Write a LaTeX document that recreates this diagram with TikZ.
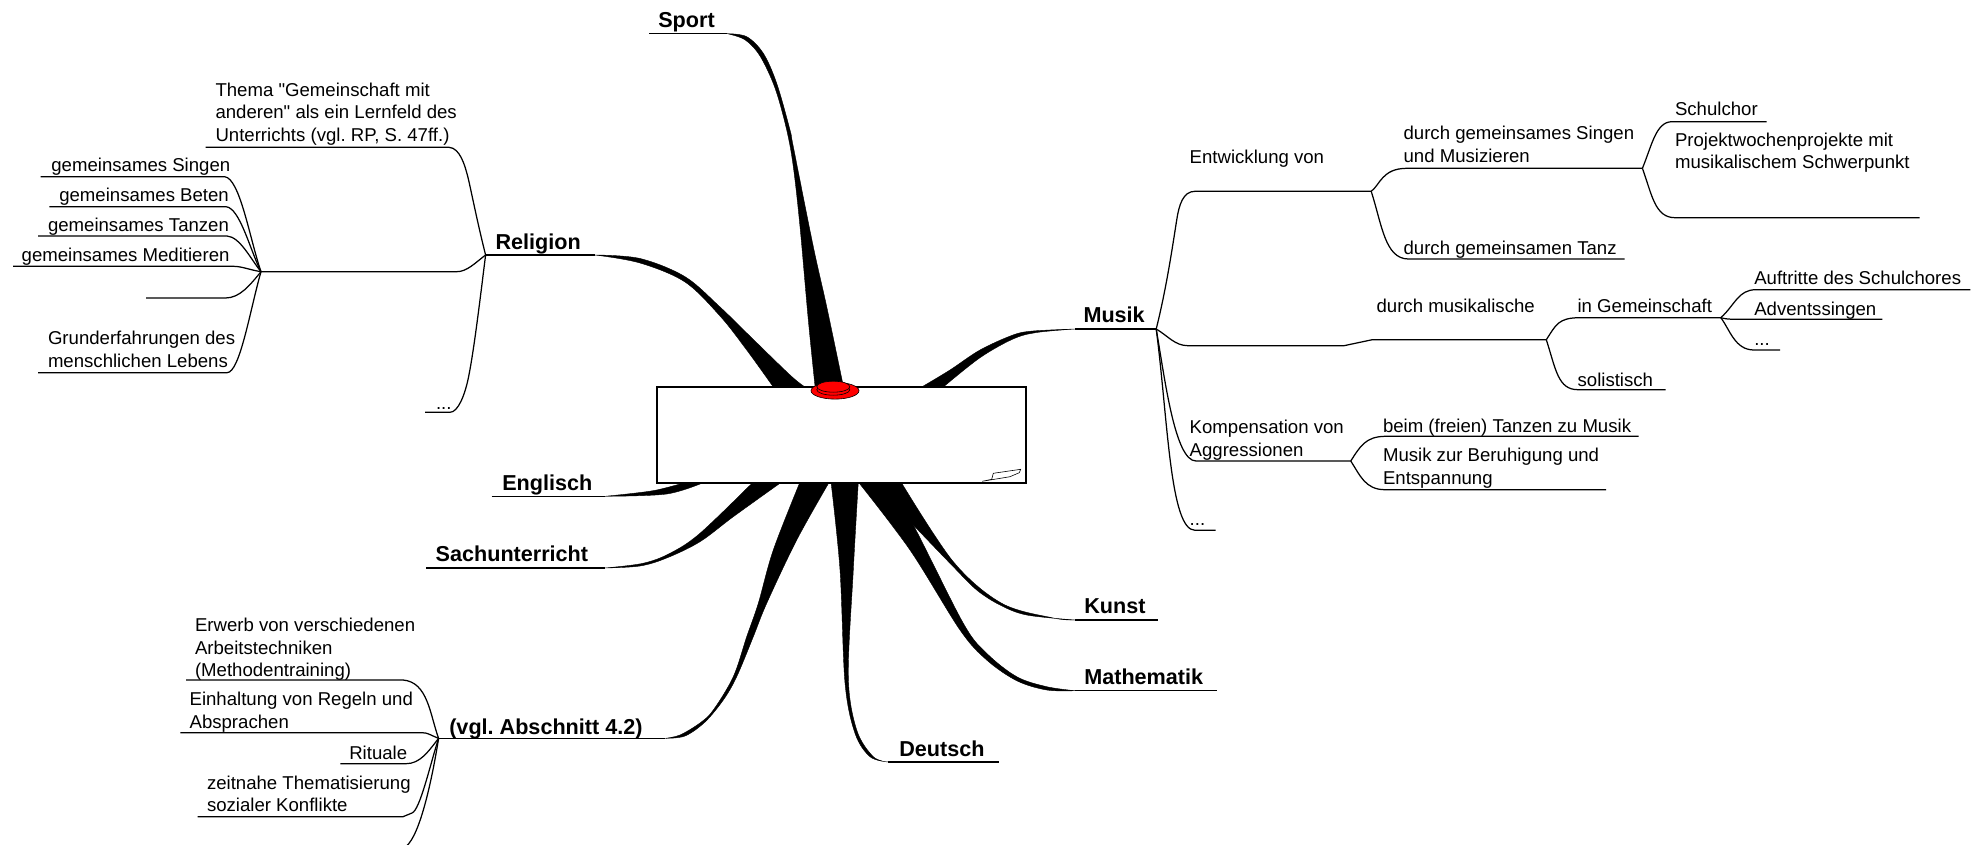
\documentclass[tikz,border=0pt]{standalone}
\usepackage{fontspec}
\usetikzlibrary{shapes.geometric}
\setmainfont{Liberation Sans}
\newfontfamily\plainquote{Liberation Sans}
\newcommand{\sq}{{\plainquote\char34}}
\frenchspacing
\tikzset{
  lab/.style={anchor=base west,inner sep=0pt,outer sep=0pt,align=left,yshift=-0.35pt,font=\frenchspacing\fontsize{9.3}{11.35}\selectfont},
  topic/.style={anchor=base west,inner sep=0pt,outer sep=0pt,yshift=-0.6pt,font=\frenchspacing\fontsize{10.8}{13}\selectfont\bfseries},
  wire/.style={draw=black,line width=0.62pt,line join=round},
  mainwire/.style={draw=black,line width=0.6pt},
  taper/.style={fill=black,draw=black,line width=0.2pt,smooth,tension=0.55},
  frame/.style={draw=black,fill=white,line width=1pt},
  bulb/.style={draw=black,fill=red,line width=0.3pt},
}
\begin{document}
\begin{tikzpicture}[x=0.5pt,y=-0.5pt]
\useasboundingbox (0,0) rectangle (1987,845);
% --- hubs and branch tips
\coordinate (hubReligion) at (485.6,255);
\coordinate (hubRel2) at (261,271.7);
\coordinate (hubMusik) at (1156.2,329);
\coordinate (hubE) at (1371.2,191.3);
\coordinate (hubF) at (1642.4,168.3);
\coordinate (hubG) at (1546.3,339.7);
\coordinate (hubH) at (1720.8,317.7);
\coordinate (hubK) at (1350.7,461);
\coordinate (hubVgl) at (438.6,738.3);
\coordinate (tipSport) at (727.3,33.7);
\coordinate (endSport) at (649,33.7);
\coordinate (tipReligion) at (595,255);
\coordinate (tipMusik) at (1075,329);
\coordinate (tipEnglisch) at (605,496.3);
\coordinate (endEnglisch) at (491.7,496.3);
\coordinate (tipSach) at (605,568);
\coordinate (endSach) at (426,568);
\coordinate (tipVgl) at (665.4,738.3);
\coordinate (tipDeutsch) at (888.3,762);
\coordinate (endDeutsch) at (999,762);
\coordinate (tipKunst) at (1075,620);
\coordinate (endKunst) at (1158.3,620);
\coordinate (tipMathe) at (1075,690.7);
\coordinate (endMathe) at (1216.7,690.7);
% --- tapered main branches
\fill[taper] plot coordinates {(tipSport) (746.7,36.7) (763.3,53.3) (776.7,83.3) (790,130) (793.3,146.7) (813.3,246.7) (826.7,306.7) (843.3,386)} -- plot coordinates {(815,386) (808.3,320) (800,226.7) (793.3,166.7) (786.7,130) (775,88) (760,56) (745,39.8) (tipSport)} -- cycle;
\fill[taper] plot coordinates {(tipReligion) (640,258.5) (685,276.7) (720,307) (746.7,333) (790,375) (805,387)} -- plot coordinates {(773.3,387) (746.7,350) (720,316) (685,282) (640,263) (tipReligion)} -- cycle;
\fill[taper] plot coordinates {(tipMusik) (1033,331) (1013,335) (980,350) (950,370) (921.7,387)} -- plot coordinates {(943.3,387) (980,357.7) (1013,339) (1036.7,332.5) (tipMusik)} -- cycle;
\fill[taper] plot coordinates {(tipEnglisch) (653,490.7) (686.7,482)} -- plot coordinates {(705,482) (666.7,494) (tipEnglisch)} -- cycle;
\fill[taper] plot coordinates {(tipSach) (643,563.3) (670,553.3) (700,533.3) (753.3,482)} -- plot coordinates {(781.7,482) (733.3,516.7) (700,541.7) (666.7,558) (640,566) (tipSach)} -- cycle;
\fill[taper] plot coordinates {(tipVgl) (680,735) (700,723) (713.3,710) (733.3,676.7) (746.7,636.7) (758.3,603.3) (773.3,550) (800,482)} -- plot coordinates {(829.3,482) (796.7,540) (766.7,603.3) (753.3,636.7) (736.7,676.7) (723.3,700) (705,722) (685,736) (tipVgl)} -- cycle;
\fill[taper] plot coordinates {(tipDeutsch) (870,756.7) (855,733.3) (845,683) (840,570) (831,482)} -- plot coordinates {(858.3,482) (853.3,570) (848.3,676.7) (856.7,730) (873.3,756.7) (tipDeutsch)} -- cycle;
\fill[taper] plot coordinates {(tipKunst) (1053.3,618) (1001.7,603.3) (953.3,561.7) (901,482)} -- plot coordinates {(873,482) (913.3,525) (953.3,566.7) (976.7,590) (1000,605) (1026.7,615) (tipKunst)} -- cycle;
\fill[taper] plot coordinates {(tipMathe) (1046.7,686.7) (1016.7,676.7) (986.7,653.3) (963.3,623.3) (913.3,525) (886.7,482)} -- plot coordinates {(858.3,482) (910,550) (960,630) (986.7,660) (1016.7,680.7) (1046.7,690) (tipMathe)} -- cycle;
% --- centre box
\node[frame,minimum width=184.65pt,minimum height=48pt,inner sep=0pt,outer sep=0pt] (centre) at (841.35,434.7) {};
\fill[draw=black,fill=white,line width=0.3pt] (982.3,481.3) -- (991.7,479.3) -- (993.3,473.3) -- (1020.7,469.3) -- (1019.3,472.7) -- (1010,476.7) -- cycle;
\node[bulb,ellipse,minimum width=24pt,minimum height=8.4pt,inner sep=0pt] (bulbOuter) at (835,390.7) {};
\node[bulb,ellipse,minimum width=16.5pt,minimum height=5.5pt,inner sep=0pt] (bulbMid) at (833.3,389.7) {};
\node[bulb,ellipse,minimum width=16.5pt,minimum height=5.5pt,inner sep=0pt] (bulbInner) at (833.3,386.7) {};
% --- main underlines
\draw[mainwire] (endSport) -- (tipSport);
\draw[mainwire] (hubReligion) -- (tipReligion);
\draw[mainwire] (hubMusik) -- (tipMusik);
\draw[mainwire] (endEnglisch) -- (tipEnglisch);
\draw[mainwire] (endSach) -- (tipSach);
\draw[mainwire] (hubVgl) -- (tipVgl);
\draw[mainwire] (tipDeutsch) -- (endDeutsch);
\draw[mainwire] (tipKunst) -- (endKunst);
\draw[mainwire] (tipMathe) -- (endMathe);
% --- topic labels
\node[topic] (tSport) at (658.3,26.7) {Sport};
\node[topic] (tReligion) at (495.5,248.3) {Religion};
\node[topic] (tMusik) at (1083.5,321) {Musik};
\node[topic] (tEnglisch) at (502.3,489.3) {Englisch};
\node[topic] (tSach) at (435.7,560.7) {Sachunterricht};
\node[topic] (tVgl) at (449.3,733.3) {(vgl. Abschnitt 4.2)};
\node[topic] (tDeutsch) at (899.3,755) {Deutsch};
\node[topic] (tKunst) at (1084.3,612.7) {Kunst};
\node[topic] (tMathe) at (1084.3,683.3) {Mathematik};
% --- Religion
\coordinate (eThema) at (205.6,147.3);
\coordinate (eRelDots) at (425,412.3);
\coordinate (eSingen) at (40.7,176.7);
\coordinate (eBeten) at (49.4,206.7);
\coordinate (eTanzen) at (38,236);
\coordinate (eMedit) at (13,266.3);
\coordinate (eBlankR) at (146,298);
\coordinate (eGrund) at (38,372.7);
\draw[wire] (hubReligion) .. controls (478,225) and (472,195) .. (468.6,180) .. controls (465,165) and (460,148) .. (449,147.3) -- (eThema);
\draw[wire] (hubReligion) .. controls (480,300) and (474,350) .. (468.6,376.7) .. controls (465,395) and (458,412.3) .. (450,412.3) -- (eRelDots);
\draw[wire] (hubReligion) .. controls (475,263) and (467,271.7) .. (456.7,271.7) -- (hubRel2);
\draw[wire] (hubRel2) .. controls (250,240) and (240,178) .. (224.6,176.7) -- (eSingen);
\draw[wire] (hubRel2) .. controls (250,250) and (240,208) .. (226,206.7) -- (eBeten);
\draw[wire] (hubRel2) .. controls (250,258) and (240,237) .. (227,236) -- (eTanzen);
\draw[wire] (hubRel2) .. controls (250,270) and (242,266.3) .. (233,266.3) -- (eMedit);
\draw[wire] (hubRel2) .. controls (250,285) and (240,298) .. (225.4,298) -- (eBlankR);
\draw[wire] (hubRel2) .. controls (250,310) and (240,372.7) .. (227,372.7) -- (eGrund);
\node[lab] (nThema) at (215.5,141) {Thema \sq Gemeinschaft mit\\anderen\sq{} als ein Lernfeld des\\Unterrichts (vgl. RP, S. 47ff.)};
\node[lab] (nSingen) at (51.4,171) {gemeinsames Singen};
\node[lab] (nBeten) at (59.3,201) {gemeinsames Beten};
\node[lab] (nTanzen) at (48,231) {gemeinsames Tanzen};
\node[lab] (nMedit) at (21.7,261) {gemeinsames Meditieren};
\node[lab] (nGrund) at (48,366.7) {Grunderfahrungen des\\menschlichen Lebens};
\node[lab] (nRelDots) at (436,409) {...};
% --- Musik
\coordinate (eTanz) at (1624.6,259);
\coordinate (eChor) at (1766.7,121.7);
\coordinate (eBlankM) at (1919.6,217.7);
\coordinate (eSol) at (1665.7,389.7);
\coordinate (eAuft) at (1970.4,289.7);
\coordinate (eAdv) at (1882.3,319.3);
\coordinate (eHDots) at (1780,350);
\coordinate (eBeim) at (1638.7,436.3);
\coordinate (eBeru) at (1606.2,489.7);
\coordinate (eMDots) at (1215.6,530.3);
\draw[wire] (hubMusik) .. controls (1166,290) and (1172,250) .. (1176.7,220) .. controls (1179,205) and (1183,191.3) .. (1195,191.3) -- (hubE);
\draw[wire] (hubMusik) .. controls (1168,336) and (1175,345.7) .. (1188,345.7) -- (1344,345.7) -- (1372.3,339.7) -- (hubG);
\draw[wire] (hubMusik) .. controls (1165,380) and (1175,461) .. (1196,461) -- (hubK);
\draw[wire] (hubMusik) .. controls (1168,420) and (1170,530.3) .. (1195,530.3) -- (eMDots);
\draw[wire] (hubE) .. controls (1380,185) and (1382,168.3) .. (1407,168.3) -- (hubF);
\draw[wire] (hubE) .. controls (1382,225) and (1385,259) .. (1408.5,259) -- (eTanz);
\draw[wire] (hubF) .. controls (1652,145) and (1656,121.7) .. (1672,121.7) -- (eChor);
\draw[wire] (hubF) .. controls (1652,195) and (1655,217.7) .. (1675,217.7) -- (eBlankM);
\draw[wire] (hubG) .. controls (1556,325) and (1558,317.7) .. (1580,317.7) -- (hubH);
\draw[wire] (hubG) .. controls (1556,370) and (1558,389.7) .. (1578,389.7) -- (eSol);
\draw[wire] (hubH) .. controls (1735,305) and (1738,289.7) .. (1756,289.7) -- (eAuft);
\draw[wire] (hubH) .. controls (1725,319) and (1730,319.3) .. (1736,319.3) -- (eAdv);
\draw[wire] (hubH) .. controls (1730,330) and (1735,350) .. (1754,350) -- (eHDots);
\draw[wire] (hubK) .. controls (1360,447) and (1365,436.3) .. (1386,436.3) -- (eBeim);
\draw[wire] (hubK) .. controls (1360,475) and (1365,489.7) .. (1385,489.7) -- (eBeru);
\node[lab] (nEnt) at (1189.7,163.3) {Entwicklung von};
\node[lab] (nSingM) at (1403.6,162) {durch gemeinsames Singen\\und Musizieren};
\node[lab] (nTanz) at (1403.6,254) {durch gemeinsamen Tanz};
\node[lab] (nChor) at (1675,115) {Schulchor};
\node[lab] (nProj) at (1675,168.3) {Projektwochenprojekte mit\\musikalischem Schwerpunkt};
\node[lab] (nMus) at (1376.6,312.3) {durch musikalische};
\node[lab] (nGem) at (1577.6,312.3) {in Gemeinschaft};
\node[lab] (nSol) at (1577.6,385.7) {solistisch};
\node[lab] (nAuft) at (1754.3,284) {Auftritte des Schulchores};
\node[lab] (nAdv) at (1754.3,314.3) {Adventssingen};
\node[lab] (nHDots) at (1754.3,345) {...};
\node[lab] (nKomp) at (1189.7,455.3) {Kompensation von\\Aggressionen};
\node[lab] (nBeim) at (1383,431.7) {beim (freien) Tanzen zu Musik};
\node[lab] (nBeru) at (1383,483.3) {Musik zur Beruhigung und\\Entspannung};
\node[lab] (nMDots) at (1189.7,525) {...};
% --- vgl. Abschnitt 4.2
\coordinate (eErw) at (186,680);
\coordinate (eEin) at (180.4,732.7);
\coordinate (eRit) at (340.4,763.7);
\coordinate (eZeit) at (197.5,816.7);
\coordinate (eBlankV) at (406.4,846);
\draw[wire] (hubVgl) .. controls (430,715) and (428,682) .. (403,680) -- (eErw);
\draw[wire] (hubVgl) .. controls (430,735) and (428,732.7) .. (422,732.7) -- (eEin);
\draw[wire] (hubVgl) .. controls (428,752) and (420,763.7) .. (406,763.7) -- (eRit);
\draw[wire] (hubVgl) .. controls (430,765) and (420,810) .. (412,813) -- (403,816.7) -- (eZeit);
\draw[wire] (hubVgl) .. controls (432,780) and (420,835) .. (eBlankV);
\node[lab] (nErw) at (195,676) {Erwerb von verschiedenen\\Arbeitstechniken\\(Methodentraining)};
\node[lab] (nEin) at (189.6,727.3) {Einhaltung von Regeln und\\Absprachen};
\node[lab] (nRit) at (349.3,758.3) {Rituale};
\node[lab] (nZeit) at (207,811) {zeitnahe Thematisierung\\sozialer Konflikte};
\end{tikzpicture}
\end{document}
